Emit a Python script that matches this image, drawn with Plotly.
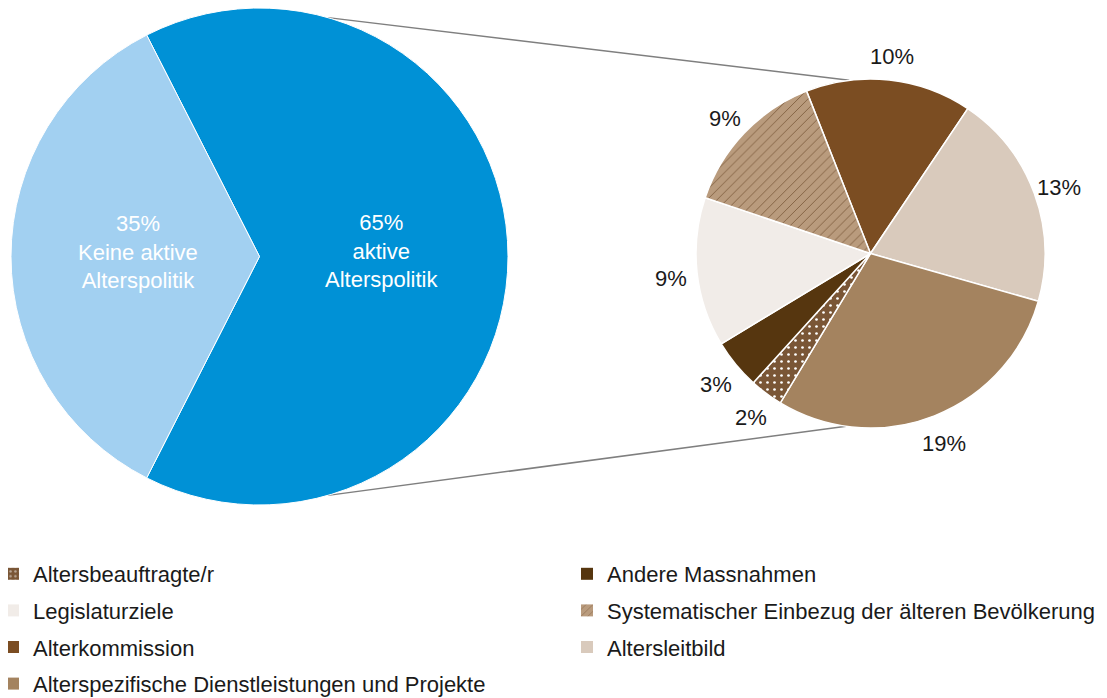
import math
import plotly.graph_objects as go

# page is 1107x698, the figure sits 8px in from the top left (body margin)
PAD = 8
W, H = 1107 - PAD, 698 - PAD

# Übersicht: aktive / keine aktive Alterspolitik
main_labels = ["aktive<br>Alterspolitik", "Keine aktive<br>Alterspolitik"]
main_values = [65, 35]
main_colors = ["#0091d6", "#a2d0f1"]

# Aufschlüsselung der aktiven Alterspolitik (Anteile am Total), im Uhrzeigersinn
sub_labels = ["Alterkommission", "Altersleitbild",
              "Alterspezifische Dienstleistungen und Projekte",
              "Altersbeauftragte/r", "Andere Massnahmen", "Legislaturziele",
              "Systematischer Einbezug der älteren Bevölkerung"]
sub_values = [10, 13, 19, 2, 3, 9, 9]
sub_colors = ["#7b4d22", "#d9cabc", "#a4835f", "#7a5636", "#56360f", "#f1ece8", "#b99b7d"]
sub_shapes = ["", "", "", ".", "", "", "/"]
sub_fg = ["#7b4d22", "#d9cabc", "#a4835f", "#ffffff", "#56360f", "#f1ece8", "#7c5a3b"]

# Legendenreihenfolge (linke und rechte Spalte)
legend_left = ["Altersbeauftragte/r", "Legislaturziele", "Alterkommission",
               "Alterspezifische Dienstleistungen und Projekte"]
legend_right = ["Andere Massnahmen", "Systematischer Einbezug der älteren Bevölkerung",
                "Altersleitbild"]

FONT = "Liberation Sans, Arial, sans-serif"

# pie boxes in figure pixels: (left, top, size)
big = (3, 0, 497)
small = (688, 71, 349)
main_rot = -27
sub_rot = -21.5


def dom(box):
    x0, y0, s = box
    return dict(x=[x0 / W, (x0 + s) / W], y=[1 - (y0 + s) / H, 1 - y0 / H])


def polar(box, ang, k=1.0):
    x0, y0, s = box
    r = s / 2 * k
    cx, cy = x0 + s / 2, y0 + s / 2
    a = math.radians(ang)
    return (cx + r * math.sin(a)) / W, 1 - (cy - r * math.cos(a)) / H


def mid_angles(values, rot):
    tot = sum(values)
    out, start = [], rot
    for v in values:
        out.append(start + v / tot * 180)
        start += v / tot * 360
    return out


fig = go.Figure()

fig.add_trace(go.Pie(
    labels=main_labels, values=main_values, sort=False, direction="clockwise",
    rotation=main_rot, domain=dom(big), showlegend=False,
    marker=dict(colors=main_colors, line=dict(color="white", width=1)),
    textinfo="none", hoverinfo="skip",
))

for v, l, m in zip(main_values, main_labels, mid_angles(main_values, main_rot)):
    x, y = polar(big, m, 0.49)
    fig.add_annotation(x=x, y=y, xref="paper", yref="paper", text=f"{v}%<br>{l}",
                       showarrow=False, xanchor="center", yanchor="middle", yshift=5,
                       font=dict(family=FONT, size=22, color="white"))

fig.add_trace(go.Pie(
    labels=sub_labels, values=sub_values, sort=False, direction="clockwise",
    rotation=sub_rot, domain=dom(small), showlegend=False,
    marker=dict(colors=sub_colors, line=dict(color="white", width=1.5),
                pattern=dict(shape=sub_shapes, fgcolor=sub_fg, bgcolor=sub_colors,
                             size=7, solidity=0.12, fillmode="replace")),
    textinfo="none", hoverinfo="skip",
))

# outside percentage labels at each slice's mid angle
for v, m in zip(sub_values, mid_angles(sub_values, sub_rot)):
    x, y = polar(small, m, 1.15)
    fig.add_annotation(x=x, y=y, xref="paper", yref="paper", text=f"{v}%",
                       showarrow=False, xanchor="center", yanchor="middle", yshift=-3,
                       font=dict(family=FONT, size=22, color="#1a1a1a"))

# legend entries
for names, leg in ((legend_left, "legend"), (legend_right, "legend2")):
    for n in names:
        i = sub_labels.index(n)
        fig.add_trace(go.Bar(
            x=[None], y=[None], name=n, legend=leg, legendgroup=n,
            marker=dict(color=sub_colors[i], line=dict(width=0),
                        pattern=dict(shape=sub_shapes[i], fgcolor=sub_fg[i],
                                     bgcolor=sub_colors[i], size=6, solidity=0.2)),
        ))

# connector lines between the pies
for a_big, a_small in ((16, -7), (164, 188)):
    x0, y0 = polar(big, a_big)
    x1, y1 = polar(small, a_small)
    fig.add_shape(type="line", xref="paper", yref="paper", x0=x0, y0=y0, x1=x1, y1=y1,
                  line=dict(color="#7f7f7f", width=1.5), layer="below")

legend_style = dict(orientation="v", xanchor="left", yanchor="top", tracegroupgap=5,
                    itemwidth=30, bgcolor="rgba(0,0,0,0)",
                    font=dict(family=FONT, size=22, color="#1a1a1a"))

fig.update_layout(
    width=W, height=H, margin=dict(l=0, r=0, t=0, b=0, autoexpand=False),
    paper_bgcolor="white", plot_bgcolor="white",
    font=dict(family=FONT, size=22, color="#1a1a1a"),
    xaxis=dict(visible=False), yaxis=dict(visible=False),
    legend=dict(x=-15 / W, y=1 - 545 / H, **legend_style),
    legend2=dict(x=559 / W, y=1 - 545 / H, **legend_style),
)

fig.write_html("out.html")
